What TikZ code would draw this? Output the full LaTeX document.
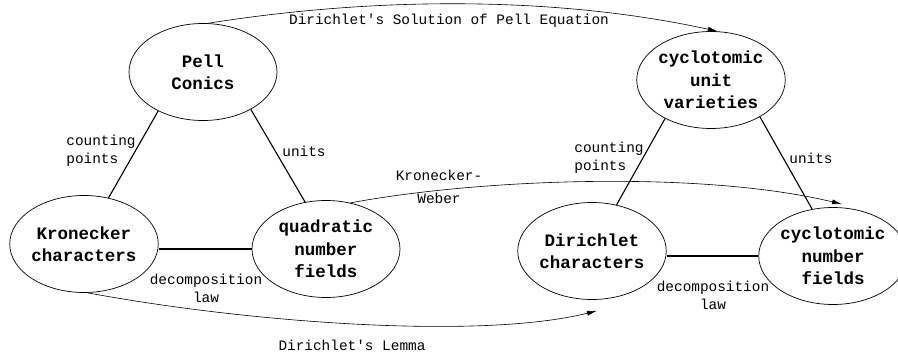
\documentclass[tikz,border=0pt]{standalone}
\usepackage{fontspec}
\setmonofont{Liberation Mono}
\usepackage{tikz}
\usetikzlibrary{arrows.meta, shapes.geometric}
\tikzset{%
	every field/.style={
		ellipse,
		draw,
		line width=0.7pt,
		inner sep=0pt,
		minimum width=148pt,
		minimum height=97pt,
		align=center,
		font=\ttfamily\bfseries\fontsize{17.5}{22.5}\selectfont
	},
	field label/.style={
		align=center,
		inner sep=0pt,
		font=\ttfamily\fontsize{14.4}{18}\selectfont
	},
	link/.style={line width=1.1pt},
	bridge/.style={line width=0.6pt, -{Latex[length=10pt,width=5pt]}},
}

\begin{document}
\begin{tikzpicture}[x=1pt, y=-1pt]
		\useasboundingbox (0,0) rectangle (898,356);

		% Draw the quadratic triangle
		\node[every field] (pell) at (203,72) {Pell\\Conics};
		\node[every field] (kron) at (84,244) {Kronecker\\characters};
		\node[every field] (quad) at (326,249) {quadratic\\number\\fields};
		\draw[link] (pell.221) -- (kron.62);
		\draw[link] (pell.322) -- (quad.114);
		\draw[link] (quad.west) -- (quad.west -| kron.east);
		\node[field label, align=left] (pellcount) at (101,151) {counting\\points};
		\node[field label] (pellunits) at (304,151) {units};
		\node[field label] (kronlaw) at (206,288) {decomposition\\law};

		% Draw the cyclotomic triangle
		\node[every field] (cuv) at (711,80) {cyclotomic\\unit\\varieties};
		\node[every field] (dir) at (592,251) {Dirichlet\\characters};
		\node[every field] (cnf) at (833,256) {cyclotomic\\number\\fields};
		\draw[link] (cuv.220) -- (dir.62);
		\draw[link] (cuv.323) -- (cnf.114);
		\draw[link] (cnf.west) -- (cnf.west -| dir.east);
		\node[field label, align=left] (cuvcount) at (609,158) {counting\\points};
		\node[field label] (cuvunits) at (811,158) {units};
		\node[field label] (dirlaw) at (713,295) {decomposition\\law};

		% Draw the arrows between the triangles
		\draw[bridge] (pell.84) .. controls +(170,-27) and +(-160,-35) .. (cuv.82);
		\node[field label] (pellsol) at (449,21) {Dirichlet's Solution of Pell Equation};

		\draw[bridge] (quad.62) .. controls +(128,-24) and +(-142,-34) .. ([shift={(9,-3)}]cnf.north);
		\node[field label] (kw) at (439,186.5) {Kronecker-\\[5pt]Weber};

		\draw[bridge] (kron.274) .. controls +(162,30) and +(-117,29) .. ([shift={(5,11)}]dir.south);
		\node[field label] (lemma) at (352,345) {Dirichlet's Lemma};
	\end{tikzpicture}
\end{document}
